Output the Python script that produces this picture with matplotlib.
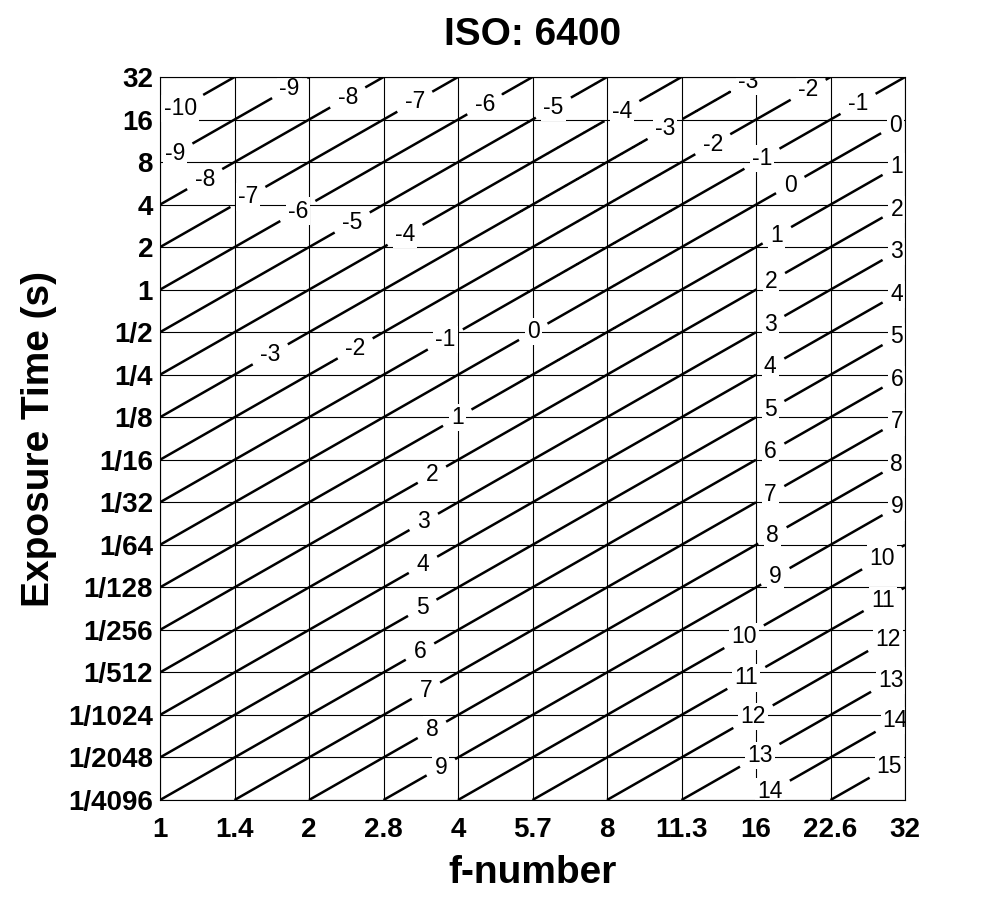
import numpy as np
import matplotlib
matplotlib.use('Agg')
import matplotlib.pyplot as plt

plt.rcParams['font.family'] = ['Liberation Sans', 'DejaVu Sans']
plt.rcParams['contour.negative_linestyle'] = 'solid'

iso = 6400
f_labels = ['1', '1.4', '2', '2.8', '4', '5.7', '8', '11.3', '16', '22.6', '32']
t_labels = ['1/4096', '1/2048', '1/1024', '1/512', '1/256', '1/128', '1/64',
            '1/32', '1/16', '1/8', '1/4', '1/2', '1', '2', '4', '8', '16', '32']
ev_levels = list(range(-10, 16))

# axes are in stops: x = log2(N^2), y = log2(t)
xs = np.arange(len(f_labels))
ys = np.arange(len(t_labels)) - 12

# where clabel put the numbers (x position in stops, per level)
label_x = {
    -10: [0.27], -9: [1.74, 0.20], -8: [2.52, 0.60], -7: [3.42, 1.18],
    -6: [4.36, 1.85], -5: [5.28, 2.58], -4: [6.20, 3.29],
    -3: [7.89, 6.78, 1.48], -2: [8.70, 7.42, 2.62], -1: [9.37, 8.08, 3.83],
    0: [9.87, 8.46, 5.01], 1: [9.89, 8.28, 3.99], 2: [9.89, 8.20, 3.65],
    3: [9.89, 8.19, 3.54], 4: [9.89, 8.19, 3.53], 5: [9.89, 8.19, 3.52],
    6: [9.89, 8.19, 3.49], 7: [9.89, 8.19, 3.57], 8: [9.89, 8.22, 3.65],
    9: [9.89, 8.26, 3.77], 10: [9.69, 7.84], 11: [9.70, 7.87],
    12: [9.77, 7.96], 13: [9.81, 8.05], 14: [9.87, 8.19], 15: [9.79],
}

gx = np.linspace(xs[0], xs[-1], 201)
gy = np.linspace(ys[0], ys[-1], 341)
X, Y = np.meshgrid(gx, gy)
# EV = log2(N^2 / t) - log2(ISO/100)
EV = X - Y - np.log2(iso / 100.0)

fig = plt.figure(figsize=(10, 9), dpi=100)
ax = fig.add_axes([0.16, 0.1111, 0.745, 0.8033])

cs = ax.contour(X, Y, EV, levels=ev_levels, colors='k', linewidths=1.8)
off = np.log2(iso / 100.0)
spots = []
for lev, xl in label_x.items():
    for x in xl:
        spots.append((x, x - off - lev))
txts = ax.clabel(cs, manual=spots, inline=True, inline_spacing=10,
                 fmt='%d', fontsize=16.5)
for t in txts:
    t.set_rotation(0)
    t.set_bbox(dict(facecolor='white', edgecolor='none', pad=1.5))
    t.set_clip_on(True)

ax.set_xlim(xs[0], xs[-1])
ax.set_ylim(ys[0], ys[-1])
ax.set_xticks(xs)
ax.set_xticklabels(f_labels)
ax.set_yticks(ys)
ax.set_yticklabels(t_labels)
ax.set_axisbelow(True)
ax.grid(True, color='k', linewidth=0.8)
ax.tick_params(length=0, labelsize=20)
ax.tick_params(axis='x', pad=12)
ax.tick_params(axis='y', pad=5)
for lab in ax.get_xticklabels() + ax.get_yticklabels():
    lab.set_fontweight('bold')
for sp in ax.spines.values():
    sp.set_zorder(10)
    sp.set_linewidth(0.8)

ax.set_title('ISO: %d' % iso, fontsize=28, fontweight='bold', pad=23)
ax.set_xlabel('f-number', fontsize=28, fontweight='bold', labelpad=9)
ax.set_ylabel('Exposure Time (s)', fontsize=28, fontweight='bold', labelpad=8)

fig.savefig('out.png', dpi=100)
